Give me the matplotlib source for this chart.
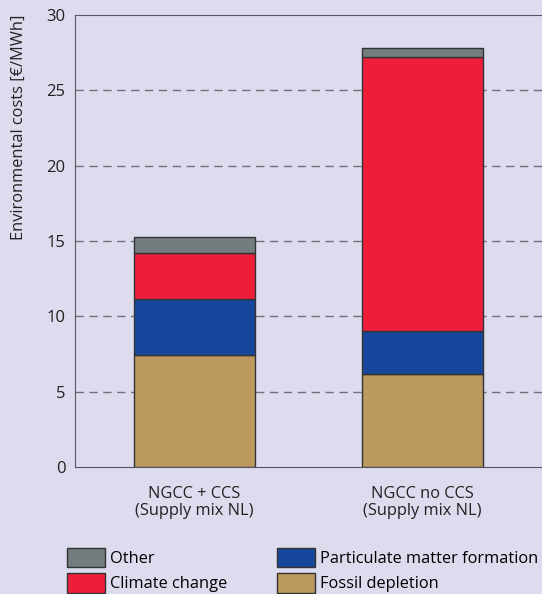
import matplotlib
matplotlib.use('Agg')
import matplotlib.pyplot as plt
import numpy as np

plt.rcParams['font.family'] = ['Open Sans', 'DejaVu Sans']

# data
scenarios = ['NGCC + CCS\n(Supply mix NL)', 'NGCC no CCS\n(Supply mix NL)']
fossil = np.array([7.43, 6.19])
particulate = np.array([3.72, 2.86])
climate = np.array([3.03, 18.18])
other = np.array([1.06, 0.55])

bg = '#DCDCEE'
fig = plt.figure(figsize=(5.42, 5.94), dpi=100, facecolor=bg)
ax = fig.add_axes([75/542, 1-467/594, 1-75/542, (467-15)/594], facecolor=bg)

x = np.arange(len(scenarios))
w = 0.53
ec = '#333333'
b1 = ax.bar(x, fossil, w, color='#BC995E', edgecolor=ec, lw=1, label='Fossil depletion', zorder=3)
b2 = ax.bar(x, particulate, w, bottom=fossil, color='#17479D', edgecolor=ec, lw=1,
            label='Particulate matter formation', zorder=3)
b3 = ax.bar(x, climate, w, bottom=fossil+particulate, color='#EE1D3A', edgecolor=ec, lw=1,
            label='Climate change', zorder=3)
b4 = ax.bar(x, other, w, bottom=fossil+particulate+climate, color='#737D80', edgecolor=ec, lw=1,
            label='Other', zorder=3)

# bar centres at 194.5 and 422.5 px
ax.set_xlim(-(194.5-75)/228, 1 + (542-422.5)/228)
ax.set_ylim(0, 30)
ax.set_yticks([0, 5, 10, 15, 20, 25, 30])
ax.set_xticks(x)
ax.set_xticklabels(scenarios, fontsize=11.8, color='#222222', linespacing=1.05)
ax.tick_params(axis='y', length=0, labelsize=12, colors='#222222', pad=7)
ax.tick_params(axis='x', length=0, labelsize=11.8, colors='#222222', pad=14)
for yv in [5, 10, 15, 20, 25]:
    ax.axhline(yv, color='#707078', lw=1, ls=(0, (6, 4)), zorder=1)
for s in ['left', 'bottom', 'top']:
    ax.spines[s].set_color('#555560')
ax.spines['right'].set_visible(False)
ax.set_ylabel('Environmental costs [€/MWh]', fontsize=11.8, color='#222222', loc='top')
ax.yaxis.set_label_coords(-0.103, 1.0)

fig.legend(handles=[b4, b3, b2, b1], ncol=2, frameon=False, fontsize=11.8,
           loc='upper left', bbox_to_anchor=(67/542, 1-548/594),
           handlelength=2.3, handleheight=1.45, handletextpad=0.35,
           labelspacing=0.35, columnspacing=3.0, borderpad=0, borderaxespad=0)

fig.savefig('out.png', dpi=100, facecolor=bg)
